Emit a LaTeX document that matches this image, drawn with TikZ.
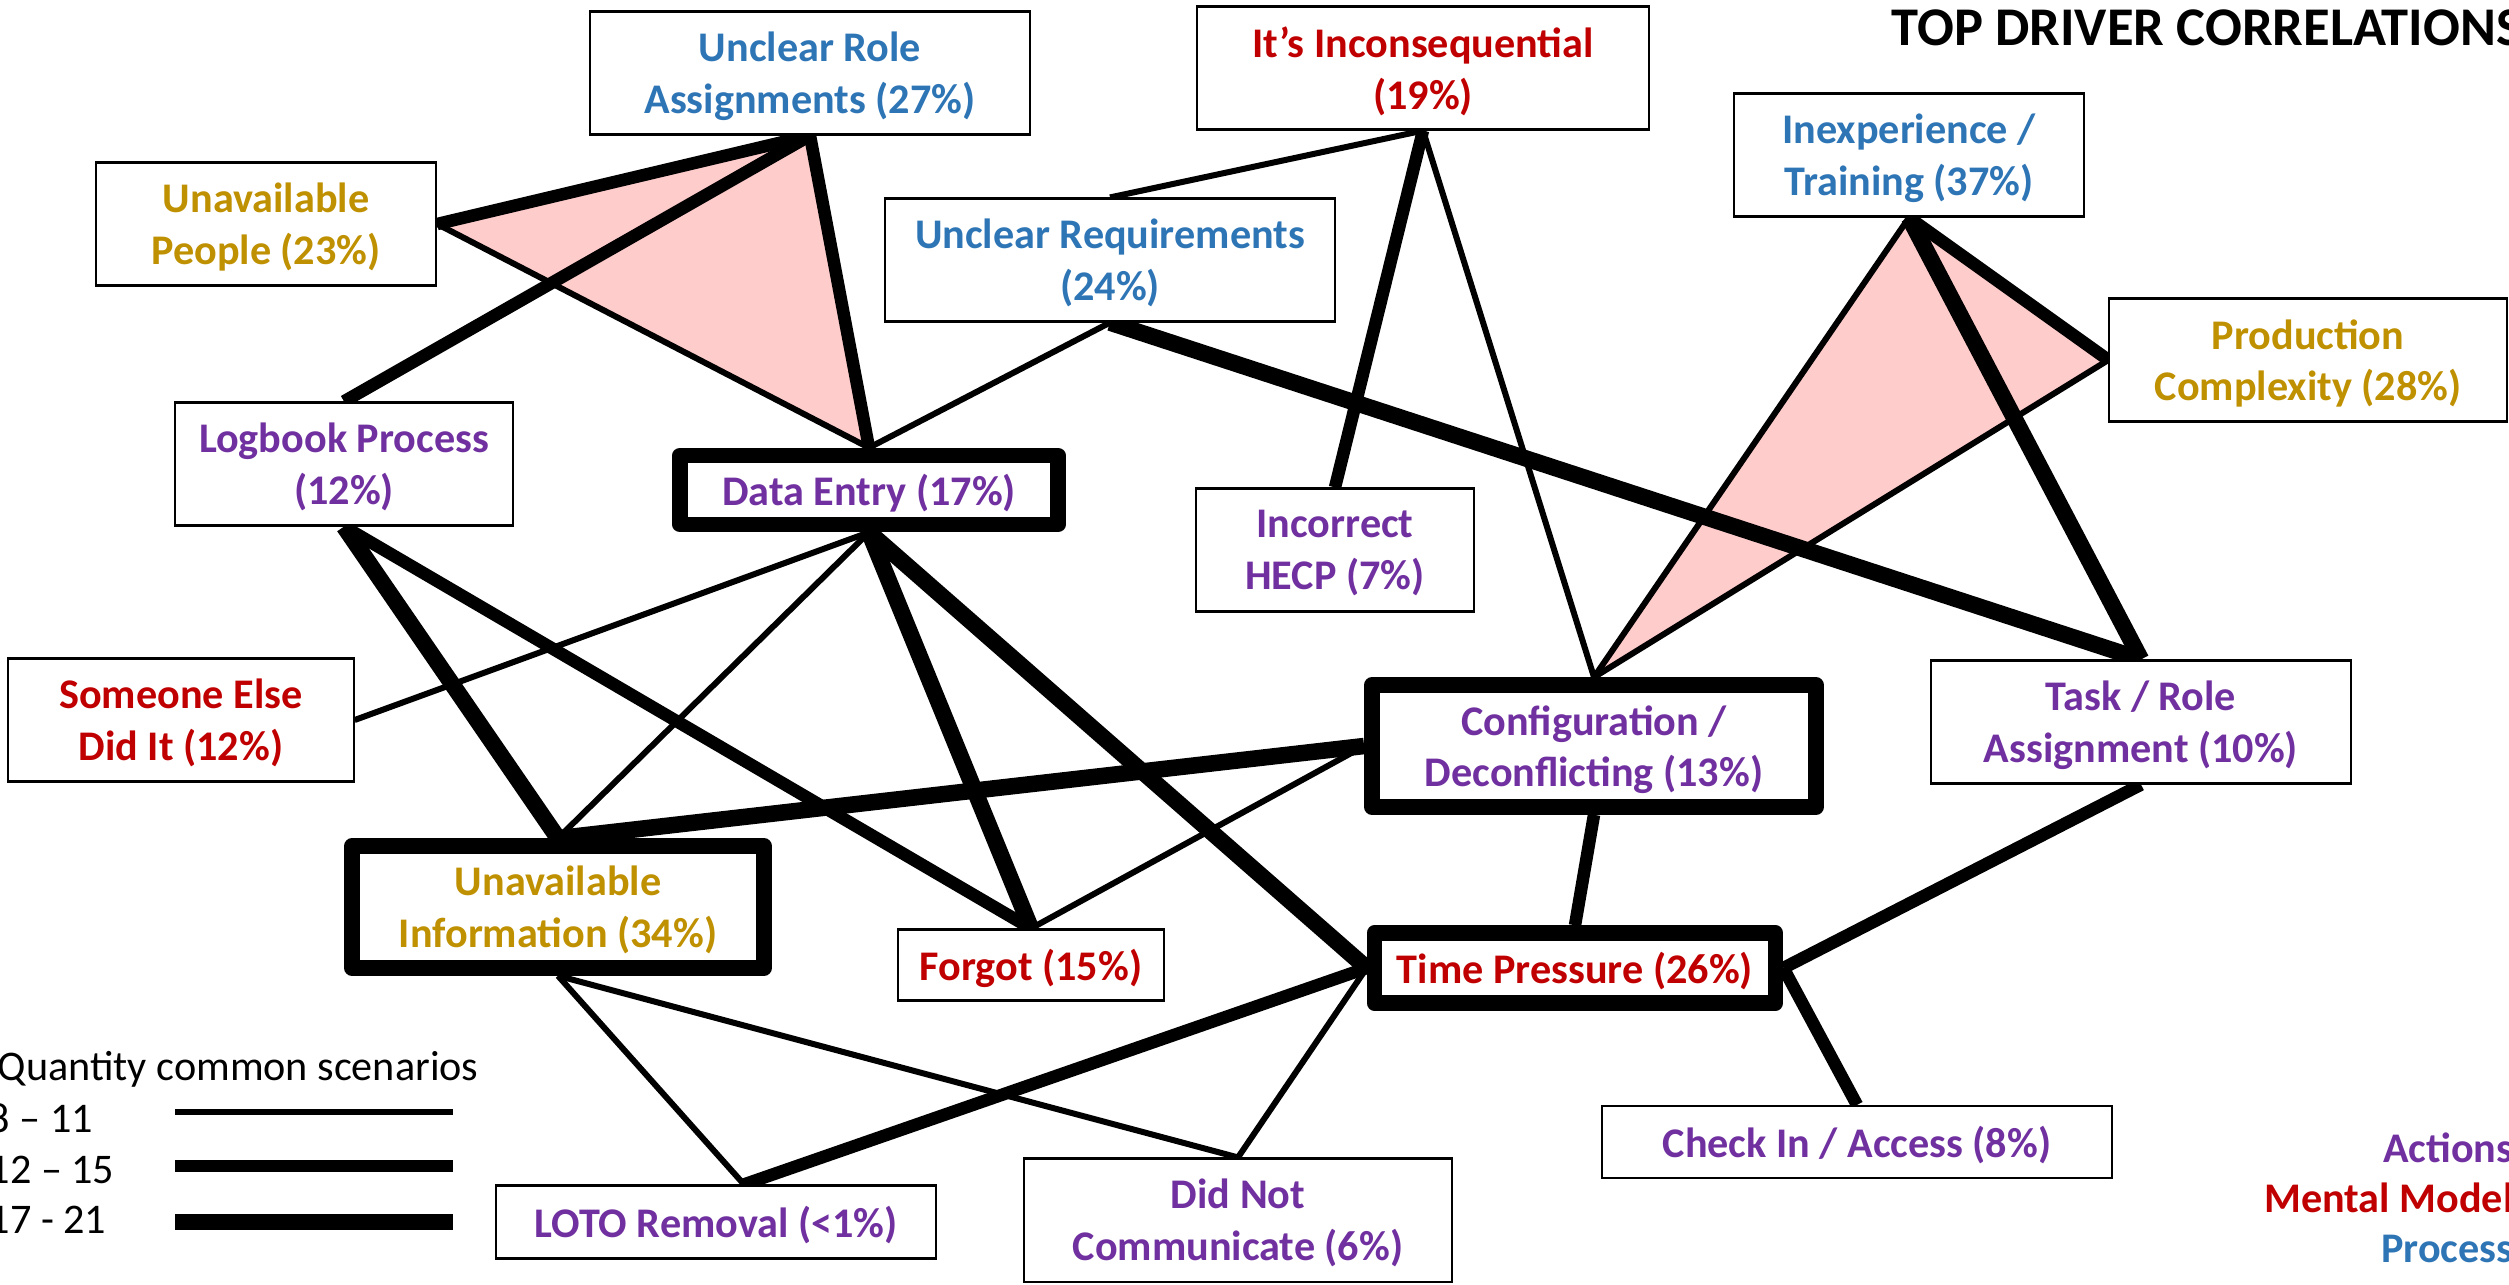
\documentclass[tikz,border=0pt]{standalone}
\usepackage{fontspec}
\setmainfont{Carlito}
\usepackage{xcolor}
\usepackage{tikz}
\usetikzlibrary{positioning,backgrounds}
\definecolor{drvBlue}{HTML}{2E75B6}
\definecolor{drvRed}{HTML}{C00000}
\definecolor{drvPurple}{HTML}{7030A0}
\definecolor{drvGold}{HTML}{BF9000}
\definecolor{drvPink}{HTML}{FFCCCC}
\newcommand{\boxfont}{\fontsize{12}{14.7}\selectfont\bfseries}

\begin{document}
\begin{tikzpicture}[x=0.01cm,y=-0.01cm,font=\boxfont,
    box/.style={draw,line width=0.6pt,fill=white,align=center,inner sep=0pt,text depth=0pt,minimum height=1.23cm},
    heavybox/.style={draw,line width=0.155cm,line join=round,fill=white,align=center,inner sep=0pt,text depth=0pt},
    thinlink/.style={line width=0.06cm},
    midlink/.style={line width=0.125cm},
    heavylink/.style={line width=0.165cm}]
      \useasboundingbox (0,0) rectangle (2509,1284);

      \node[box,minimum width=4.39cm,text=drvBlue] (roles) at (810,73)
        {Unclear Role\\Assignments (27\%)};
      \node[box,minimum width=3.40cm,text=drvGold] (people) at (266,224)
        {Unavailable\\People (23\%)};
      \node[box,minimum width=4.52cm,text=drvRed] (inconsequential) at (1423,68)
        {It’s Inconsequential\\(19\%)};
      \node[box,minimum width=4.49cm,text=drvBlue] (requirements) at (1110,260)
        {Unclear Requirements\\(24\%)};
      \node[box,minimum width=3.50cm,text=drvBlue] (inexperience) at (1909,155)
        {Inexperience /\\Training (37\%)};
      \node[box,minimum width=3.97cm,text=drvGold] (production) at (2308,360)
        {Production\\Complexity (28\%)};
      \node[box,minimum width=3.38cm,text=drvPurple] (logbook) at (344,464)
        {Logbook Process\\(12\%)};
      \node[heavybox,minimum width=3.78cm,minimum height=0.69cm,text=drvPurple] (dataentry) at (869,490)
        {Data Entry (17\%)};
      \node[box,minimum width=2.77cm,text=drvPurple] (hecp) at (1335,550)
        {Incorrect\\HECP (7\%)};
      \node[box,minimum width=3.45cm,text=drvRed] (someone) at (181,720)
        {Someone Else\\Did It (12\%)};
      \node[heavybox,minimum width=4.44cm,minimum height=1.22cm,text=drvPurple] (config) at (1594,746)
        {Configuration /\\Deconflicting (13\%)};
      \node[box,minimum width=4.19cm,text=drvPurple] (taskrole) at (2141,722)
        {Task / Role\\Assignment (10\%)};
      \node[heavybox,minimum width=4.12cm,minimum height=1.22cm,text=drvGold] (unavinfo) at (558,907)
        {Unavailable\\Information (34\%)};
      \node[box,minimum width=2.66cm,minimum height=0.71cm,text=drvRed] (forgot) at (1031,965)
        {Forgot (15\%)};
      \node[heavybox,minimum width=4.01cm,minimum height=0.70cm,text=drvRed] (timepressure) at (1575,968)
        {Time Pressure (26\%)};
      \node[box,minimum width=5.10cm,minimum height=0.72cm,text=drvPurple] (checkin) at (1857,1142)
        {Check In / Access (8\%)};
      \node[box,minimum width=4.40cm,minimum height=0.73cm,text=drvPurple] (loto) at (716,1222)
        {LOTO Removal (<1\%)};
      \node[box,minimum width=4.27cm,text=drvPurple] (notcomm) at (1238,1220)
        {Did Not\\Communicate (6\%)};
      \coordinate (lototop) at ([xshift=0.28cm]loto.north);

      \node[anchor=base west,inner sep=0pt,font=\fontsize{15.5}{18}\selectfont\bfseries] (title) at (1891,45)
        {TOP DRIVER CORRELATIONS};

      % key
      \node[anchor=base east,inner sep=0pt,text=drvPurple] (actions) at (2514,1162) {Actions};
      \node[anchor=base east,inner sep=0pt,text=drvRed] (mental) at (2514,1212) {Mental Model};
      \node[anchor=base east,inner sep=0pt,text=drvBlue] (process) at (2514,1262) {Process};

      % legend
      \node[anchor=base west,inner sep=0pt,font=\fontsize{12}{14}\selectfont] (legendhead) at (-3,1080)
        {Quantity common scenarios};
      \node[anchor=base west,inner sep=0pt,font=\fontsize{12}{14}\selectfont] (rangelow) at (-12,1132) {8 – 11};
      \node[anchor=base west,inner sep=0pt,font=\fontsize{12}{14}\selectfont] (rangemid) at (-12,1183) {12 – 15};
      \node[anchor=base west,inner sep=0pt,font=\fontsize{12}{14}\selectfont] (rangehigh) at (-12,1233) {17 - 21};
      \coordinate (lowa) at (175,1112);  \coordinate (lowb) at (453,1112);
      \coordinate (mida) at (175,1166);  \coordinate (midb) at (453,1166);
      \coordinate (higha) at (175,1222); \coordinate (highb) at (453,1222);
      \draw[thinlink] (lowa) -- (lowb);
      \draw[midlink] (mida) -- (midb);
      \draw[heavylink] (higha) -- (highb);

      \begin{scope}[on background layer]
        \fill[drvPink] (people.east) -- (roles.south) -- (dataentry.north) -- cycle;
        \fill[drvPink] (inexperience.south) -- (production.west) -- (config.north) -- cycle;
        \draw[midlink] (people.east) -- (roles.south);
        \draw[midlink] (logbook.north) -- (roles.south);
        \draw[thinlink] (people.east) -- (dataentry.north);
        \draw[midlink] (roles.south) -- (dataentry.north);
        \draw[thinlink] (requirements.north) -- (inconsequential.south);
        \draw[thinlink] (requirements.south) -- (dataentry.north);
        \draw[heavylink] (requirements.south) -- (taskrole.north);
        \draw[midlink] (inconsequential.south) -- (hecp.north);
        \draw[thinlink] (inconsequential.south) -- (config.north);
        \draw[midlink] (inexperience.south) -- (production.west);
        \draw[heavylink] (inexperience.south) -- (taskrole.north);
        \draw[thinlink] (inexperience.south) -- (config.north);
        \draw[thinlink] (production.west) -- (config.north);
        \draw[heavylink] (logbook.south) -- (unavinfo.north);
        \draw[midlink] (logbook.south) -- (forgot.north);
        \draw[thinlink] (dataentry.south) -- (someone.east);
        \draw[thinlink] (dataentry.south) -- (unavinfo.north);
        \draw[heavylink] (dataentry.south) -- (forgot.north);
        \draw[heavylink] (dataentry.south) -- (timepressure.west);
        \draw[heavylink] (unavinfo.north) -- (config.west);
        \draw[thinlink] (forgot.north) -- (config.west);
        \draw[midlink] (config.south) -- (timepressure.north);
        \draw[midlink] (taskrole.south) -- (timepressure.east);
        \draw[midlink] (timepressure.east) -- (checkin.north);
        \draw[thinlink] (unavinfo.south) -- (lototop);
        \draw[thinlink] (unavinfo.south) -- (notcomm.north);
        \draw[midlink] (lototop) -- (timepressure.west);
        \draw[thinlink] (notcomm.north) -- (timepressure.west);
      \end{scope}
    \end{tikzpicture}
\end{document}
